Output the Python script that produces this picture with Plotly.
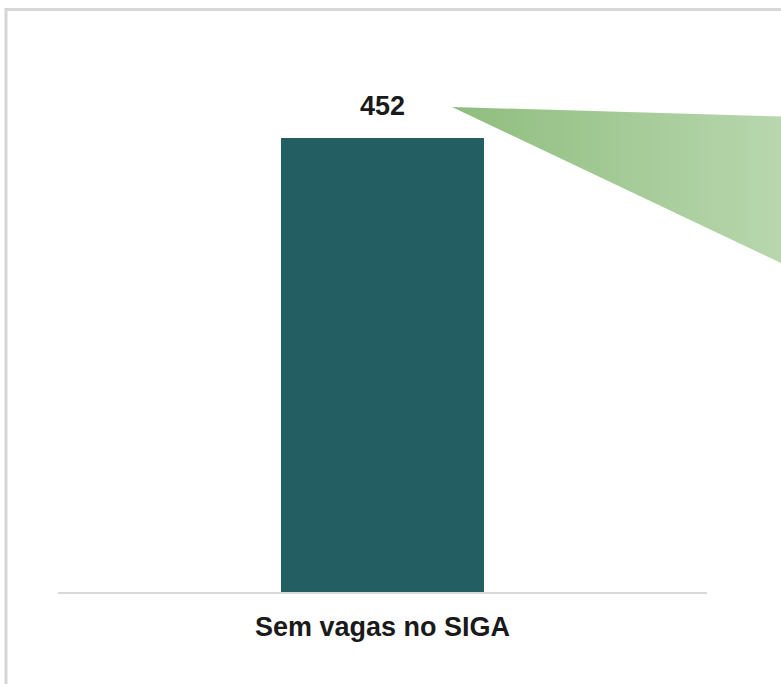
import plotly.graph_objects as go

categories = ["Sem vagas no SIGA"]
values = [452]
value_labels = ["452"]

W, H = 781, 684
# plot area in pixels
PX0, PX1 = 58, 707
PY_TOP, PY_BASE = 80, 592

FONT = "Liberation Sans, Arial, sans-serif"

fig = go.Figure()

fig.add_trace(go.Bar(
    x=categories, y=values,
    marker=dict(color="#225E62", line=dict(width=0)),
    width=0.314,
    xaxis="x", yaxis="y",
    hoverinfo="skip",
))

for c, v, t in zip(categories, values, value_labels):
    fig.add_annotation(
        x=c, y=v, xref="x", yref="y", text=f"<b>{t}</b>",
        showarrow=False, yanchor="bottom", yshift=15,
        font=dict(family=FONT, size=27, color="#1a1a1a"),
    )

# decorative callout triangle in pixel space (overlay axes)
fig.add_trace(go.Scatter(
    x=[452, 800, 800, 452], y=[107, 117, 272, 107],
    mode="lines", line=dict(width=0), fill="toself",
    fillgradient=dict(type="horizontal",
                      colorscale=[[0, "#8fbd7e"], [1, "#bad8b0"]]),
    xaxis="x2", yaxis="y2", hoverinfo="skip", showlegend=False,
))

fig.update_layout(
    width=W, height=H,
    margin=dict(l=0, r=0, t=0, b=0),
    paper_bgcolor="white", plot_bgcolor="rgba(0,0,0,0)",
    showlegend=False,
    bargap=0,
    xaxis=dict(
        domain=[PX0 / W, PX1 / W],
        showline=True, linecolor="#d9d9d9", linewidth=2,
        showgrid=False, zeroline=False,
        ticks="outside", ticklen=10, tickcolor="rgba(0,0,0,0)",
        tickfont=dict(family=FONT, size=27, color="#1a1a1a", weight="bold"),
        anchor="y",
    ),
    yaxis=dict(
        domain=[(H - PY_BASE) / H, (H - PY_TOP) / H],
        range=[0, 452 * (PY_BASE - PY_TOP) / (PY_BASE - 138)],
        visible=False, anchor="x",
    ),
    xaxis2=dict(domain=[0, 1], range=[0, W], visible=False, anchor="y2"),
    yaxis2=dict(domain=[0, 1], range=[H, 0], visible=False, anchor="x2"),
    shapes=[
        dict(type="line", xref="x2", yref="y2", x0=5, x1=W, y0=9.5, y1=9.5,
             line=dict(color="#d6d6d6", width=3)),
        dict(type="line", xref="x2", yref="y2", x0=6, x1=6, y0=8, y1=H,
             line=dict(color="#d6d6d6", width=3)),
    ],
)

fig.write_html(
    "out.html",
    config={"displayModeBar": False},
    post_script="document.body.style.margin='0';document.body.style.overflow='hidden';",
)
